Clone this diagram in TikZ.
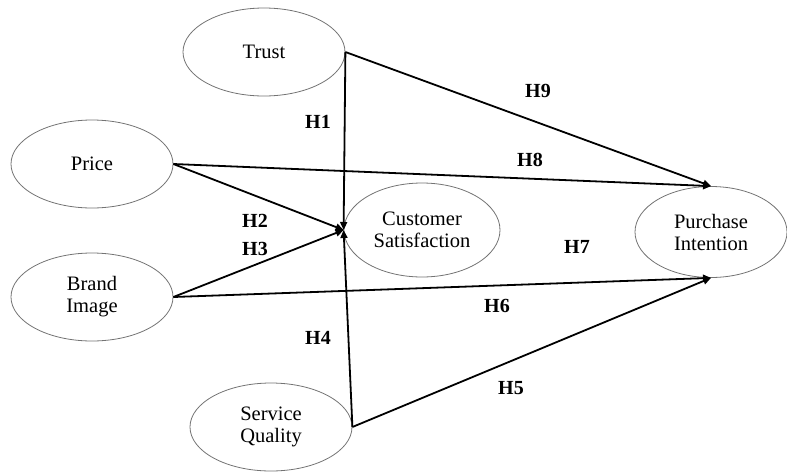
\documentclass[tikz,border=0pt]{standalone}
\usepackage{fontspec}
\setmainfont{Liberation Serif}
\usetikzlibrary{positioning, shapes.geometric, arrows.meta}

\begin{document}
\begin{tikzpicture}[x=1pt,y=-1pt]
	\tikzstyle{construct}=[ellipse,draw=black!55,line width=0.8pt,minimum width=162pt,minimum height=88pt,inner sep=0pt,align=center,font=\fontsize{20.5}{22}\selectfont]
	\tikzstyle{link}=[black,line width=1.8pt,-{Triangle[length=8pt,width=7pt]}]
	\tikzstyle{hyp}=[font=\fontsize{20}{22}\selectfont\bfseries]
	\useasboundingbox (0,0) rectangle (787,472);
	% constructs
	\node[construct](trust) at (264,52) {Trust};
	\node[construct](price) at (92,164) {Price};
	\node[construct](brand) at (92,297) {Brand\\Image};
	\node[construct](service) at (271,427) {Service\\Quality};
	\node[construct,minimum width=156pt,minimum height=94pt](satis) at (422,230) {Customer\\Satisfaction};
	\node[construct,minimum width=152pt,minimum height=91pt](intent) at (711,232) {Purchase\\Intention};
	% paths
	\draw[link](trust.east) -- (satis.west);
	\draw[link](price.east) -- (satis.west);
	\draw[link](brand.east) -- (satis.west);
	\draw[link](service.east) -- (satis.west);
	\draw[link](trust.east) -- (intent.north);
	\draw[link](price.east) -- (intent.north);
	\draw[link](brand.east) -- (intent.south);
	\draw[link](service.east) -- (intent.south);
	% hypotheses
	\node[hyp](h1) at (318,122) {H1};
	\node[hyp](h2) at (255,221) {H2};
	\node[hyp](h3) at (255,249) {H3};
	\node[hyp](h4) at (318,338) {H4};
	\node[hyp](h5) at (511,388) {H5};
	\node[hyp](h6) at (497,306) {H6};
	\node[hyp](h7) at (577,247) {H7};
	\node[hyp](h8) at (530,160) {H8};
	\node[hyp](h9) at (538,91) {H9};
\end{tikzpicture}
\end{document}
